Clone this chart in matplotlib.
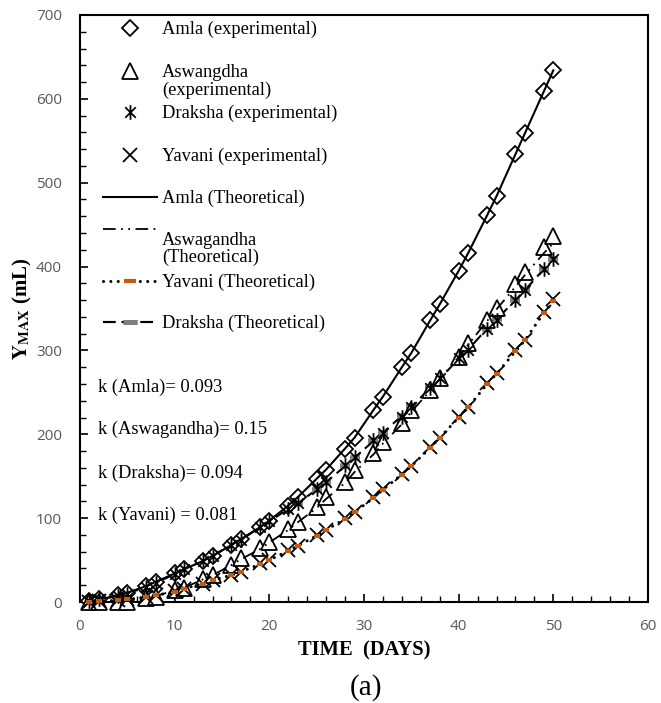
import matplotlib
matplotlib.use("Agg")
import matplotlib.pyplot as plt
from matplotlib.path import Path
from matplotlib.lines import Line2D
from matplotlib.ticker import MultipleLocator

# ---------------- data ----------------
days = [1, 2, 4, 5, 7, 8, 10, 11, 13, 14, 16, 17, 19, 20, 22, 23, 25, 26,
        28, 29, 31, 32, 34, 35, 37, 38, 40, 41, 43, 44, 46, 47, 49, 50]

amla_exp = [1, 3, 8, 11, 19, 24, 34, 39, 49, 55, 68, 75, 89, 97, 115, 125, 147, 158,
            183, 196, 229, 245, 280, 297, 336, 355, 395, 416, 461, 484, 534, 559, 609, 634]
aswa_exp = [0, 0, 0, 0, 5, 6, 14, 17, 28, 32, 44, 52, 64, 72, 87, 95, 113, 125,
            143, 157, 178, 191, 213, 229, 253, 267, 292, 309, 336, 351, 379, 393, 423, 436]
draksha_exp = [1, 3, 7, 10, 18, 23, 33, 39, 49, 55, 68, 74, 90, 97, 111, 118, 135, 143,
               163, 173, 193, 202, 221, 233, 255, 267, 291, 300, 326, 336, 360, 372, 397, 409]
yavani_exp = [0, 1, 2, 3, 6, 8, 13, 16, 22, 26, 32, 36, 46, 50, 62, 67, 80, 86,
              100, 107, 125, 135, 153, 162, 185, 196, 221, 233, 261, 273, 300, 312, 346, 361]

amla_theo = [1, 3, 8, 11, 19, 24, 34, 39, 49, 55, 68, 75, 89, 97, 115, 125, 147, 158,
             183, 196, 229, 245, 280, 297, 336, 355, 395, 416, 461, 484, 534, 559, 609, 634]
aswa_theo = [0, 0, 0, 1, 5, 7, 14, 17, 27, 32, 44, 51, 63, 71, 86, 95, 112, 123,
             142, 155, 176, 189, 212, 227, 252, 266, 292, 307, 335, 349, 376, 390, 416, 428]
draksha_theo = [1, 3, 7, 10, 18, 23, 33, 39, 49, 55, 68, 74, 89, 96, 111, 118, 134, 143,
                162, 172, 192, 202, 222, 233, 255, 266, 290, 301, 326, 337, 360, 372, 397, 409]
yavani_theo = [0, 1, 2, 3, 6, 8, 12, 16, 22, 26, 32, 36, 45, 50, 61, 67, 79, 86,
               99, 107, 124, 134, 152, 162, 184, 196, 220, 232, 260, 272, 299, 312, 345, 359]

xticks = [0, 10, 20, 30, 40, 50, 60]
yticks = [0, 100, 200, 300, 400, 500, 600, 700]

legend_labels = ["Amla (experimental)", "Aswangdha\n(experimental)",
                 "Draksha (experimental)", "Yavani (experimental)",
                 "Amla (Theoretical)", "Aswagandha\n(Theoretical)",
                 "Yavani (Theoretical)", "Draksha (Theoretical)"]
k_texts = ["k (Amla)= 0.093", "k (Aswagandha)= 0.15",
           "k (Draksha)= 0.094", "k (Yavani) = 0.081"]

# ---------------- style ----------------
plt.rcParams["mathtext.fontset"] = "stix"
SERIF = "Liberation Serif"
ORANGE = "#C55A11"
GRAY = "#808080"
TICKC = "#595959"
FS = 13.3

star = Path([(0, -1), (0, 1), (-0.72, -0.72), (0.72, 0.72), (-0.72, 0.72), (0.72, -0.72)],
            [Path.MOVETO, Path.LINETO, Path.MOVETO, Path.LINETO, Path.MOVETO, Path.LINETO])

fig = plt.figure(figsize=(6.61, 7.03), dpi=100)
ax = fig.add_axes([80 / 661, 1 - 602 / 703, 568 / 661, 587 / 703])

# experimental markers
st_amla = dict(ls="none", marker="D", ms=8.5, mfc="white", mec="black", mew=1.3)
st_aswa = dict(ls="none", marker="^", ms=11, mfc="white", mec="black", mew=1.3)
st_drak = dict(ls="none", marker=star, ms=10.5, mfc="none", mec="black", mew=1.3)
st_yav = dict(ls="none", marker="x", ms=9.5, mec="black", mew=1.3)

# theoretical lines
st_t_amla = dict(color="black", lw=1.5, ls="-")
st_t_aswa = dict(color="black", lw=1.3, ls=(0, (7, 3, 1, 3, 1, 3)))
st_t_yav = dict(color="black", lw=2.2, ls=(0, (0.01, 2.4)), dash_capstyle="round",
                marker="_", ms=5, mec=ORANGE, mew=3)
st_t_drak = dict(color="black", lw=1.5, ls=(0, (6, 3)),
                 marker="_", ms=7, mec=GRAY, mew=4)

ax.plot(days, draksha_theo, **st_t_drak, zorder=2.5, clip_on=False)
ax.plot(days, amla_exp, **st_amla, zorder=3, clip_on=False)
ax.plot(days, aswa_exp, **st_aswa, zorder=3, clip_on=False)
ax.plot(days, draksha_exp, **st_drak, zorder=3, clip_on=False)
ax.plot(days, yavani_exp, **st_yav, zorder=3, clip_on=False)

ax.plot(days, amla_theo, **st_t_amla, zorder=4)
ax.plot(days, aswa_theo, **st_t_aswa, zorder=4)
ax.plot(days, yavani_theo, **st_t_yav, zorder=4, clip_on=False)

# axes
ax.set_xlim(0, 60)
ax.set_ylim(0, 700)
ax.set_xticks(xticks)
ax.set_yticks(yticks)
ax.set_xticklabels([str(t) for t in xticks], family="Open Sans", fontsize=11, color=TICKC)
ax.set_yticklabels([str(t) for t in yticks], family="Open Sans", fontsize=11, color=TICKC)
ax.xaxis.set_minor_locator(MultipleLocator(2))
ax.yaxis.set_minor_locator(MultipleLocator(20))
ax.tick_params(which="both", direction="in", top=False, right=False, color="black")
ax.tick_params(which="major", length=6, width=1.2)
ax.tick_params(which="minor", length=4, width=1.0)
ax.tick_params(axis="x", which="major", pad=12)
ax.tick_params(axis="y", which="major", pad=13)
for s in ax.spines.values():
    s.set_linewidth(1.5)
    s.set_color("black")

ax.set_xlabel("TIME  (DAYS)", family=SERIF, fontweight="bold", fontsize=14.8, va="center")
ax.xaxis.set_label_coords(0.5, (602 - 650) / 587)
ax.set_ylabel(r"$\mathbf{Y}_{\mathbf{MAX}}$ (mL)", family=SERIF, fontweight="bold",
              fontsize=15, va="center")
ax.yaxis.set_label_coords((22 - 80) / 568, 0.5)

fig.text(366 / 661, 1 - 688 / 703, "(a)", family=SERIF, fontsize=21, ha="center", va="center")

# legend (one entry per legend to reproduce the spacing)
leg_yav = dict(st_t_yav, ms=8)
leg_drak = dict(st_t_drak, ms=10, mew=3.5)
handles = [
    Line2D([], [], **st_amla),
    Line2D([], [], **st_aswa),
    Line2D([], [], **st_drak),
    Line2D([], [], **st_yav),
    Line2D([], [], **st_t_amla),
    Line2D([], [], **st_t_aswa),
    Line2D([], [], **leg_yav),
    Line2D([], [], **leg_drak),
]
handle_y = [29, 72, 113, 156, 198, 230, 282, 323]
text_y = [29, 81.5, 113, 156, 198, 249, 282, 323]

def fx(px):
    return (px - 80) / 568

def fy(py):
    return (602 - py) / 587

for h, hy in zip(handles, handle_y):
    leg = ax.legend([h], [""], loc="center left", bbox_to_anchor=(fx(103), fy(hy)),
                    bbox_transform=ax.transAxes, frameon=False, borderpad=0,
                    borderaxespad=0, handlelength=2.9, handletextpad=0,
                    numpoints=1, fontsize=FS)
    ax.add_artist(leg)

for lab, ty in zip(legend_labels, text_y):
    ax.text(fx(162), fy(ty), lab, transform=ax.transAxes, family=SERIF, fontsize=FS,
            ha="left", va="center", linespacing=1.0)

for txt, ty in zip(k_texts, [387, 429, 473, 515]):
    ax.text(fx(98), fy(ty), txt, transform=ax.transAxes, family=SERIF, fontsize=FS,
            ha="left", va="center")

fig.savefig("out.png", dpi=100)
